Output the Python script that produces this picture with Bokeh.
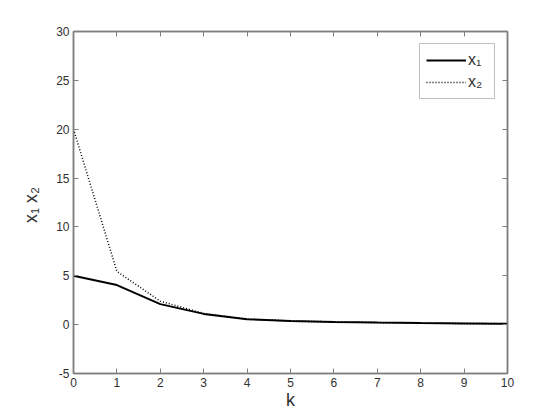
from bokeh.plotting import figure
from bokeh.models import LinearAxis, Range1d, FixedTicker, Legend, LegendItem
from bokeh.embed import file_html
from bokeh.resources import INLINE

k = [0, 1, 2, 3, 4, 5, 6, 7, 8, 9, 10]
x1 = [5.0, 4.05, 2.1, 1.1, 0.55, 0.38, 0.28, 0.21, 0.16, 0.12, 0.09]
x2 = [20.0, 5.45, 2.4, 1.15, 0.55, 0.38, 0.28, 0.21, 0.16, 0.12, 0.09]
xticks = list(range(0, 11))
yticks = [-5, 0, 5, 10, 15, 20, 25, 30]

FONT = "Liberation Sans"
AX = "#7f7f7f"
TXT = "#303030"

p = figure(width=552, height=412, output_backend="svg", toolbar_location=None,
           x_range=Range1d(0, 10), y_range=Range1d(-5, 30),
           min_border_left=73, min_border_right=45, min_border_top=31, min_border_bottom=39,
           x_axis_label="k", y_axis_label="x₁  x₂")
p.grid.visible = False
p.outline_line_color = AX
p.outline_line_width = 1.5
p.background_fill_color = "white"

def style(ax, labels=True):
    ax.axis_line_color = AX
    ax.axis_line_width = 1.5
    ax.major_tick_line_color = AX
    ax.major_tick_in = 5
    ax.major_tick_out = 0
    ax.minor_tick_line_color = None
    ax.major_label_text_font = FONT
    ax.major_label_text_font_size = "12px"
    ax.major_label_text_color = TXT if labels else None
    ax.axis_label_text_font = FONT
    ax.axis_label_text_font_size = "18px"
    ax.axis_label_text_font_style = "normal"
    ax.axis_label_text_color = TXT
    ax.major_label_standoff = 4

p.xaxis.ticker = FixedTicker(ticks=xticks)
p.yaxis.ticker = FixedTicker(ticks=yticks)
style(p.xaxis[0])
style(p.yaxis[0])
p.yaxis[0].major_label_overrides = {-5: "-5"}
p.xaxis[0].axis_label_standoff = 0
p.yaxis[0].axis_label_standoff = 12

top = LinearAxis(ticker=FixedTicker(ticks=xticks))
right = LinearAxis(ticker=FixedTicker(ticks=yticks))
style(top, False)
style(right, False)
top.major_label_text_font_size = "0px"
right.major_label_text_font_size = "0px"
p.add_layout(top, "above")
p.add_layout(right, "right")

r1 = p.line(k, x1, line_color="black", line_width=2)
r2 = p.line(k, x2, line_color="black", line_width=1.5, line_dash="1 2")

leg = Legend(items=[LegendItem(label="x₁", renderers=[r1]),
                    LegendItem(label="x₂", renderers=[r2])],
             location="top_right", margin=12, padding=6, spacing=2,
             glyph_width=40, glyph_height=20, label_standoff=2,
             border_line_color=AX, border_line_width=1.5,
             label_text_font=FONT, label_text_font_size="16px", label_text_color=TXT,
             background_fill_alpha=1.0)
p.add_layout(leg)

open("out.html", "w").write(file_html(p, INLINE))
